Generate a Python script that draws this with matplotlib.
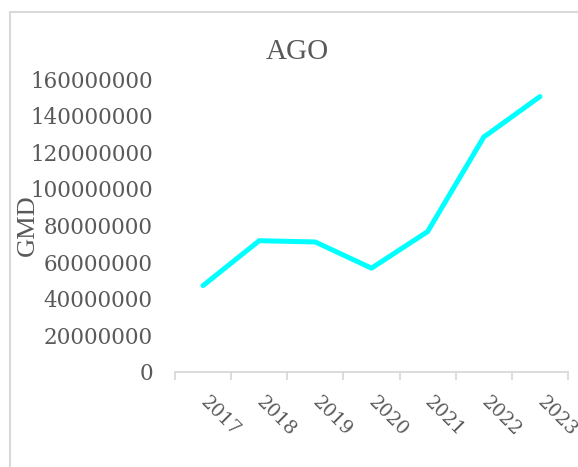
import numpy as np
import matplotlib
matplotlib.use('Agg')
import matplotlib.pyplot as plt
from matplotlib.patches import Rectangle

# Data
years = ['2017', '2018', '2019', '2020', '2021', '2022', '2023']
ago_values = [47200000, 71700000, 71000000, 56700000, 76700000, 128300000, 150400000]
y_ticks = [0, 20000000, 40000000, 60000000, 80000000, 100000000,
           120000000, 140000000, 160000000]

text_color = '#595959'
grid_color = '#d9d9d9'

fig = plt.figure(figsize=(5.78, 4.67), dpi=100)

# chart-area border (cut off at right and bottom like the reference)
fig.patches.append(Rectangle((10 / 578, -0.1), 1.2, (467 - 12) / 467 + 0.1,
                             transform=fig.transFigure, fill=False,
                             edgecolor=grid_color, linewidth=1.5))

ax = fig.add_axes([175 / 578, (467 - 372) / 467, (568 - 175) / 578, (372 - 79) / 467])

x = np.arange(len(years))
ax.plot(x, ago_values, color='#00FFFF', linewidth=3.6, solid_capstyle='round',
        solid_joinstyle='round')

ax.set_xlim(-0.5, len(years) - 0.5)
ax.set_ylim(0, 160000000)

# spines
for side in ['top', 'right', 'left']:
    ax.spines[side].set_visible(False)
ax.spines['bottom'].set_color(grid_color)
ax.spines['bottom'].set_linewidth(1.3)

# x ticks: labels at centres, tick marks at category boundaries
ax.set_xticks(x)
ax.set_xticklabels(years, rotation=-45, ha='left', va='center',
                   rotation_mode='anchor', family='DejaVu Serif',
                   fontsize=13.5, color=text_color)
ax.tick_params(axis='x', which='major', length=0, pad=20)
ax.set_xticks(np.arange(-0.5, len(years), 1.0), minor=True)
ax.tick_params(axis='x', which='minor', length=6, color=grid_color, width=1.3)

# y ticks
ax.set_yticks(y_ticks)
ax.set_yticklabels([str(v) for v in y_ticks], family='DejaVu Serif',
                   fontsize=15.5, color=text_color)
ax.tick_params(axis='y', length=0, pad=16)

# axis title sits over the tick labels, as in the reference
fig.text(28 / 578, (467 - 225) / 467, 'GMD', family='Liberation Serif',
         fontsize=19, color=text_color, rotation=90, ha='center', va='center')

fig.text(297 / 578, (467 - 52) / 467, 'AGO', family='Liberation Serif',
         fontsize=21, color=text_color, ha='center', va='center')

fig.savefig('out.png', dpi=100)
